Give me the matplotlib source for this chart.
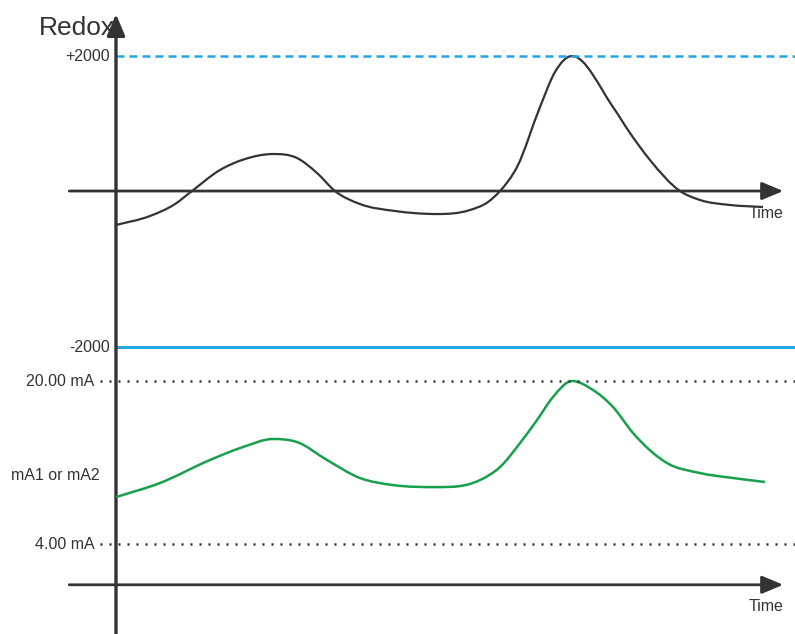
import numpy as np
import matplotlib.pyplot as plt
from matplotlib.path import Path
from matplotlib.patches import PathPatch

plt.rcParams['font.family'] = ['Liberation Sans', 'DejaVu Sans']

# Redox signal (mV) over time (arbitrary units).
redox_time = [0, 0.524, 0.909, 1.171, 1.602, 1.988, 2.419, 2.789, 3.097, 3.374,
              3.760, 4.299, 4.946, 5.455, 5.732, 5.917, 6.179, 6.533, 6.764,
              7.026, 7.658, 7.920, 8.228, 8.690, 8.998, 9.461, 9.969]
redox_mv = [-504, -370, -193, 0, 311, 474, 548, 489, 267, 0,
            -193, -296, -341, -281, -163, 0, 356, 1244, 1763,
            2000, 1244, 859, 459, 0, -133, -207, -237]

# Analog output (mA) over time.
ma_time = [0, 0.678, 1.448, 1.957, 2.419, 2.789, 3.251, 3.760, 4.268, 4.946,
           5.300, 5.609, 5.917, 6.225, 6.487, 6.733, 7.026, 7.350, 7.658,
           7.966, 8.490, 8.998, 9.507, 10.0]
ma_out = [8.61, 9.99, 12.25, 13.52, 14.31, 14.01, 12.25, 10.48, 9.79, 9.59,
          9.69, 10.28, 11.56, 13.91, 16.17, 18.43, 20.0, 19.12, 17.45,
          14.90, 11.95, 10.97, 10.48, 10.09]

redox_limits = [2000, -2000]
redox_labels = ['+2000', '-2000']
ma_limits = [20.0, 4.0]
ma_labels = ['20.00 mA', '4.00 mA']

dark = '#333333'
blue = '#22a7e4'
green = '#18a04c'


def smooth_path(x, y):
    # Cubic Hermite curve through the points (parabolic tangents, flat at
    # local extrema), handed to matplotlib as Bezier segments.
    x = np.asarray(x, float)
    y = np.asarray(y, float)
    h = np.diff(x)
    d = np.diff(y) / h
    m = np.zeros_like(y)
    m[0], m[-1] = d[0], d[-1]
    for k in range(1, len(x) - 1):
        if d[k - 1] * d[k] > 0:
            mk = (h[k] * d[k - 1] + h[k - 1] * d[k]) / (h[k - 1] + h[k])
            lim = 3 * min(abs(d[k - 1]), abs(d[k]))
            m[k] = np.sign(mk) * min(abs(mk), lim)
    verts = [(x[0], y[0])]
    codes = [Path.MOVETO]
    for k in range(len(x) - 1):
        verts += [(x[k] + h[k] / 3, y[k] + m[k] * h[k] / 3),
                  (x[k + 1] - h[k] / 3, y[k + 1] - m[k + 1] * h[k] / 3),
                  (x[k + 1], y[k + 1])]
        codes += [Path.CURVE4] * 3
    return Path(verts, codes)


fig = plt.figure(figsize=(7.95, 6.34), dpi=100)
ax1 = fig.add_axes([0, 0, 1, 1])
ax2 = fig.add_axes([0, 0, 1, 1])
ax2.patch.set_visible(False)
for ax in (ax1, ax2):
    ax.axis('off')
    ax.set_xlim(-1.787, 10.462)
ax1.set_ylim(-6563, 2830)
ax2.set_ylim(-4.83, 57.4)

arrow = dict(arrowstyle='-|>,head_length=1.0,head_width=0.42', color=dark,
             lw=2.0, mutation_scale=13, shrinkA=0, shrinkB=0)

# Time axes and vertical axis.
ax1.annotate('', xy=(10.28, 0), xytext=(-0.72, 0), arrowprops=arrow)
ax2.annotate('', xy=(10.28, 0), xytext=(-0.72, 0), arrowprops=arrow)
ax1.annotate('', xy=(0, 2622), xytext=(0, -6600),
             arrowprops=dict(arrow, lw=2.4))

# Reference lines.
ax1.plot([0, 10.462], [redox_limits[0]] * 2, color=blue, lw=1.8,
         linestyle=(0, (3.2, 2.0)))
ax1.plot([0, 10.462], [-2311] * 2, color=blue, lw=2.2)
for val in ma_limits:
    ax2.plot([-0.25, 10.462], [val, val], color=dark, lw=1.8,
             linestyle=(0, (0.8, 2.8)))

# Curves.
ax1.add_patch(PathPatch(smooth_path(redox_time, redox_mv), fill=False,
                        edgecolor=dark, lw=1.6))
ax2.add_patch(PathPatch(smooth_path(ma_time, ma_out), fill=False,
                        edgecolor=green, lw=1.8))

# Labels.
fs = 11.5
ax1.text(-0.02, 2420, 'Redox', fontsize=19, color=dark, ha='right', va='center')
ax1.text(-0.09, redox_limits[0], redox_labels[0], fontsize=fs, color=dark,
         ha='right', va='center')
ax1.text(-0.09, -2311, redox_labels[1], fontsize=fs, color=dark,
         ha='right', va='center')
ax1.text(9.74, -326, 'Time', fontsize=fs, color=dark, ha='left', va='center')
for val, lab in zip(ma_limits, ma_labels):
    ax2.text(-0.33, val, lab, fontsize=fs, color=dark, ha='right', va='center')
ax2.text(-1.62, 10.77, 'mA1 or mA2', fontsize=fs, color=dark, ha='left', va='center')
ax2.text(9.74, -2.09, 'Time', fontsize=fs, color=dark, ha='left', va='center')

fig.savefig('out.png', dpi=100)
